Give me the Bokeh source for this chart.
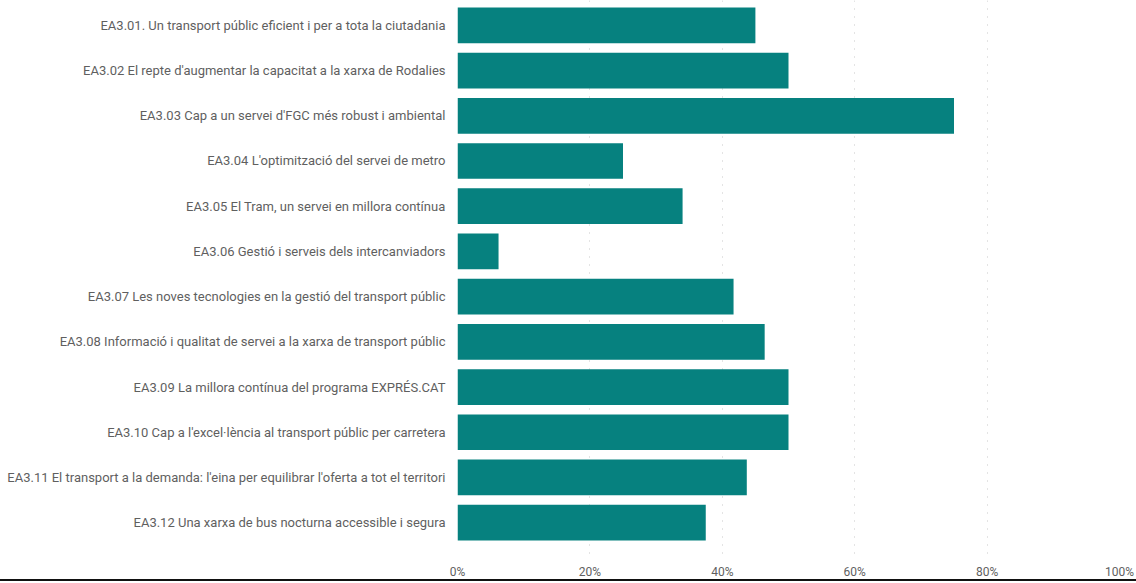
from bokeh.plotting import figure
from bokeh.models import Range1d, FixedTicker, PrintfTickFormatter, ColumnDataSource
from bokeh.embed import file_html
from bokeh.resources import INLINE

categories = [
    "EA3.01. Un transport públic eficient i per a tota la ciutadania",
    "EA3.02 El repte d'augmentar la capacitat a la xarxa de Rodalies",
    "EA3.03 Cap a un servei d'FGC més robust i ambiental",
    "EA3.04 L'optimització del servei de metro",
    "EA3.05 El Tram, un servei en millora contínua",
    "EA3.06 Gestió i serveis dels intercanviadors",
    "EA3.07 Les noves tecnologies en la gestió del transport públic",
    "EA3.08 Informació i qualitat de servei a la xarxa de transport públic",
    "EA3.09 La millora contínua del programa EXPRÉS.CAT",
    "EA3.10 Cap a l'excel·lència al transport públic per carretera",
    "EA3.11 El transport a la demanda: l'eina per equilibrar l'oferta a tot el territori",
    "EA3.12 Una xarxa de bus nocturna accessible i segura",
]
values = [45.0, 50.0, 75.0, 25.0, 34.0, 6.2, 41.7, 46.4, 50.0, 50.0, 43.7, 37.5]
x_ticks = [0, 20, 40, 60, 80, 100]

idx = list(range(len(categories)))
src = ColumnDataSource(dict(y=idx, v=values, cat=categories))

p = figure(width=1136, height=581, output_backend="svg", toolbar_location=None,
           x_range=Range1d(0, 100), y_range=Range1d(11.77, -0.55),
           min_border_left=457, min_border_right=17, min_border_top=0,
           min_border_bottom=21)
p.styles = {"border-bottom": "2px solid #111111"}
p.hbar(y="y", left=0, right="v", height=0.79, source=src,
       fill_color="#06817F", line_color=None)

p.outline_line_color = None
p.background_fill_color = "white"
p.border_fill_color = "white"

p.yaxis.ticker = FixedTicker(ticks=idx)
p.yaxis.major_label_overrides = {i: c for i, c in enumerate(categories)}
p.yaxis.axis_line_color = None
p.yaxis.major_tick_line_color = None
p.yaxis.minor_tick_line_color = None
p.yaxis.major_tick_out = 0
p.yaxis.major_tick_in = 0
p.yaxis.major_label_standoff = 12
p.yaxis.major_label_text_font = "Roboto"
p.yaxis.major_label_text_font_size = "13px"
p.yaxis.major_label_text_color = "#5F5F5F"

p.xaxis.ticker = FixedTicker(ticks=x_ticks)
p.xaxis.formatter = PrintfTickFormatter(format="%d%%")
p.xaxis.axis_line_color = None
p.xaxis.major_tick_line_color = None
p.xaxis.minor_tick_line_color = None
p.xaxis.major_tick_out = 0
p.xaxis.major_tick_in = 0
p.xaxis.major_label_standoff = 7
p.xaxis.major_label_text_font = "Roboto"
p.xaxis.major_label_text_font_size = "12px"
p.xaxis.major_label_text_color = "#5F5F5F"

p.ygrid.grid_line_color = None
p.xgrid.grid_line_color = "#C8C8C8"
p.xgrid.grid_line_dash = "1 7"
p.xgrid.grid_line_width = 1

open("out.html", "w").write(file_html(p, INLINE))
